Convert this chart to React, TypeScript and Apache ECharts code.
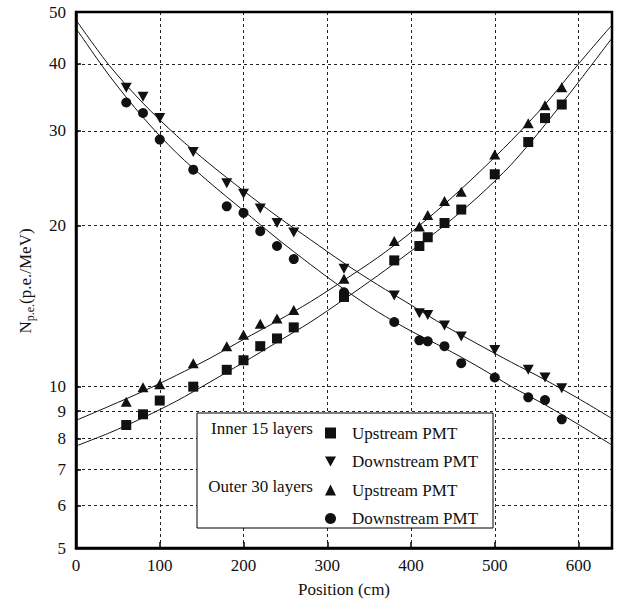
import React, { useEffect, useRef } from "react";
import * as echarts from "echarts";

const xPositions = [60, 80, 100, 140, 180, 200, 220, 240, 260, 320, 380, 410, 420, 440, 460, 500, 540, 560, 580];
const innerUpstream = [8.48, 8.88, 9.42, 10.0, 10.75, 11.2, 11.9, 12.3, 12.9, 14.7, 17.2, 18.3, 19.0, 20.2, 21.4, 24.9, 28.6, 31.7, 33.6];
const innerDownstream = [36.1, 34.75, 31.7, 27.4, 23.95, 22.9, 21.5, 20.2, 19.4, 16.6, 14.8, 13.7, 13.6, 13.0, 12.4, 11.7, 10.75, 10.4, 9.93];
const outerUpstream = [9.37, 9.97, 10.1, 11.06, 11.9, 12.5, 13.1, 13.4, 13.9, 15.9, 18.7, 19.9, 20.9, 22.2, 23.1, 27.1, 31.0, 33.5, 36.2];
const outerDownstream = [33.9, 32.4, 28.9, 25.4, 21.7, 21.1, 19.5, 18.3, 17.3, 15.0, 13.2, 12.2, 12.15, 11.9, 11.06, 10.4, 9.55, 9.44, 8.69];

const fitX = [0, 40, 80, 120, 160, 200, 240, 280, 320, 360, 400, 440, 480, 520, 560, 600, 640];
const fitInnerUp = [7.75, 8.2, 8.75, 9.4, 10.2, 11.1, 12.1, 13.2, 14.55, 16.1, 17.9, 20.0, 22.6, 26.0, 30.8, 37.0, 44.7];
const fitInnerDown = [48.3, 39.7, 33.8, 29.4, 26.0, 23.2, 20.8, 18.8, 17.0, 15.5, 14.2, 13.0, 12.0, 11.1, 10.3, 9.5, 8.72];
const fitOuterUp = [8.65, 9.2, 9.8, 10.5, 11.3, 12.25, 13.25, 14.4, 15.8, 17.4, 19.4, 21.9, 25.0, 28.8, 33.6, 40.0, 47.3];
const fitOuterDown = [46.6, 38.0, 31.8, 27.3, 24.0, 21.3, 18.9, 16.9, 15.2, 13.8, 12.7, 11.8, 10.9, 10.0, 9.25, 8.5, 7.78];

const yTicks = [5, 6, 7, 8, 9, 10, 20, 30, 40, 50];

const FONT = "Liberation Serif";
const INK = "#111";
const DOWN_TRI = "path://M0 0L10 0L5 9Z";

const pairs = (xs: number[], ys: number[]) => xs.map((x, i) => [x, ys[i]]);

export default function App() {
  const ref = useRef<HTMLDivElement>(null);

  useEffect(() => {
    if (!ref.current) return;
    const chart = echarts.init(ref.current, undefined, { renderer: "svg" });

    const scatter = (name: string, ys: number[], symbol: string, size: any) => ({
      name,
      type: "scatter",
      data: pairs(xPositions, ys),
      symbol,
      symbolSize: size,
      itemStyle: { color: INK, opacity: 1 },
      z: 3,
    });
    const fit = (ys: number[]) => ({
      type: "line",
      data: pairs(fitX, ys),
      showSymbol: false,
      symbol: "none",
      smooth: 0.3,
      lineStyle: { color: INK, width: 1 },
      silent: true,
      z: 2,
    });

    chart.setOption({
      animation: false,
      backgroundColor: "#fff",
      textStyle: { fontFamily: FONT, fontSize: 17 },
      grid: {
        left: 76,
        right: 6,
        top: 12,
        bottom: 56,
        show: true,
        borderColor: "#000",
        borderWidth: 2.5,
        backgroundColor: "transparent",
        z: 5,
      },
      xAxis: {
        type: "value",
        min: 0,
        max: 640,
        interval: 100,
        name: "Position (cm)",
        nameLocation: "middle",
        nameGap: 33,
        nameTextStyle: { fontFamily: FONT, fontSize: 17, color: INK },
        axisLine: { show: true, lineStyle: { color: "#000", width: 2.5 } },
        axisTick: { show: true, inside: true, length: 6, lineStyle: { color: "#000", width: 1.5 } },
        axisLabel: { showMaxLabel: false, fontFamily: FONT, fontSize: 17, color: INK, margin: 9 },
        splitLine: { show: true, lineStyle: { color: "#222", width: 1, type: [3, 3] } },
      },
      yAxis: {
        type: "log",
        logBase: 10,
        min: 5,
        max: 50,
        axisLine: { show: true, lineStyle: { color: "#000", width: 2.5 } },
        axisTick: { show: true, inside: true, length: 5, customValues: yTicks, lineStyle: { color: "#000", width: 1.5 } },
        axisLabel: { customValues: yTicks, fontFamily: FONT, fontSize: 17, color: INK, margin: 10 },
        splitLine: { show: true, lineStyle: { color: "#222", width: 1, type: [3, 3] } },
      },
      legend: {
        orient: "vertical",
        left: 320,
        top: 418,
        itemWidth: 11,
        itemHeight: 11,
        itemGap: 8.5,
        z: 20,
        data: ["Inner Upstream PMT", "Inner Downstream PMT", "Outer Upstream PMT", "Outer Downstream PMT"],
        formatter: (name: string) => name.replace(/^(Inner|Outer) /, ""),
        textStyle: { fontFamily: FONT, fontSize: 17, color: INK, lineHeight: 20, padding: [0, 0, 0, 11] },
        selectedMode: false,
      },
      graphic: [
        {
          type: "text",
          z: 11,
          x: 25,
          y: 281,
          rotation: Math.PI / 2,
          style: {
            text: "{n|N}{s|p.e.}{n|(p.e./MeV)}",
            align: "center",
            verticalAlign: "middle",
            fill: INK,
            rich: {
              n: { fontFamily: FONT, fontSize: 17, fill: INK },
              s: { fontFamily: FONT, fontSize: 12, fill: INK, verticalAlign: "bottom", padding: [0, 0, -2, 0] },
            },
          },
        },
        {
          type: "rect",
          z: 10,
          shape: { x: 197, y: 413, width: 296, height: 115 },
          style: { fill: "#fff", stroke: "#000", lineWidth: 1 },
        },
        {
          type: "text",
          z: 11,
          x: 313,
          y: 428,
          style: { text: "Inner 15 layers", fontFamily: FONT, fontSize: 17, fill: INK, align: "right", verticalAlign: "middle" },
        },
        {
          type: "text",
          z: 11,
          x: 313,
          y: 486,
          style: { text: "Outer 30 layers", fontFamily: FONT, fontSize: 17, fill: INK, align: "right", verticalAlign: "middle" },
        },
      ],
      series: [
        fit(fitInnerUp),
        fit(fitInnerDown),
        fit(fitOuterUp),
        fit(fitOuterDown),
        scatter("Inner Upstream PMT", innerUpstream, "rect", 10),
        scatter("Inner Downstream PMT", innerDownstream, DOWN_TRI, [11, 10]),
        scatter("Outer Upstream PMT", outerUpstream, "triangle", [11, 10]),
        scatter("Outer Downstream PMT", outerDownstream, "circle", 10),
      ],
    });

    return () => chart.dispose();
  }, []);

  return (
    <div
      ref={ref}
      style={{ position: "fixed", left: 0, top: 0, width: 618, height: 604, background: "#fff" }}
    />
  );
}
